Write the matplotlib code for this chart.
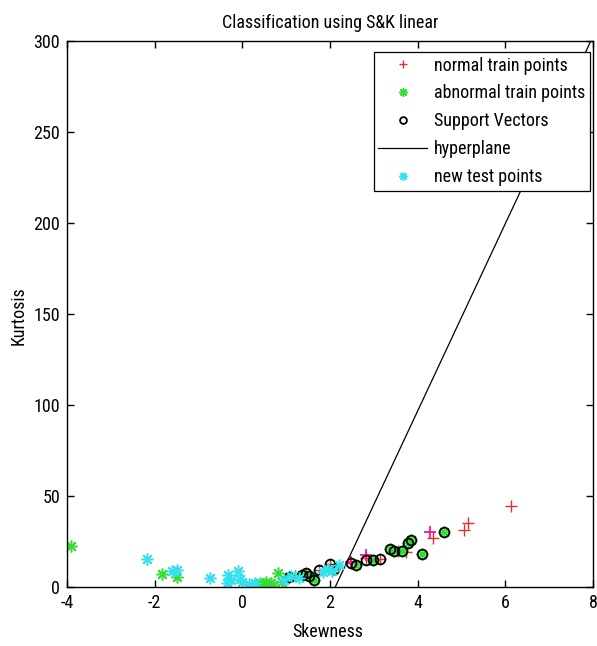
import matplotlib
matplotlib.use("Agg")
import matplotlib.pyplot as plt

# ---- data ----
normal_x = [1.76, 2.49, 3.13, 3.74, 4.34, 5.05, 5.14, 6.14, 2.83, 2.00, 1.45, 3.55]
normal_y = [9.4, 13.0, 15.4, 19.0, 27.0, 31.4, 35.0, 44.6, 16.0, 12.5, 7.5, 20.0]

magenta_x = [4.27, 2.83, 2.48]
magenta_y = [30.0, 17.6, 14.0]

abnormal_x = [-3.90, -1.83, -1.48, 0.30, 0.40, 0.50, 0.55, 0.65, 0.70, 0.82, 0.90,
              1.07, 1.37, 1.53, 1.64, 2.10, 2.60, 2.97, 3.36, 3.45, 3.65, 3.77,
              3.84, 4.11, 4.61, 1.20]
abnormal_y = [22.5, 7.0, 5.5, 1.5, 2.0, 1.5, 3.0, 2.0, 1.0, 7.5, 3.0,
              5.5, 6.6, 6.0, 4.0, 10.0, 12.0, 15.0, 21.0, 20.0, 20.0, 24.0,
              26.0, 18.0, 30.0, 6.0]

sv_x = [1.07, 1.37, 1.45, 1.53, 1.64, 1.76, 2.00, 2.10, 2.49, 2.60, 2.83, 2.97,
        3.13, 3.36, 3.45, 3.65, 3.77, 3.84, 4.11, 4.61]
sv_y = [5.5, 6.6, 7.5, 6.0, 4.0, 9.4, 12.5, 10.0, 13.0, 12.0, 15.0, 15.0,
        15.4, 21.0, 20.0, 20.0, 24.0, 26.0, 18.0, 30.0]

test_x = [-2.17, -1.60, -1.50, -0.73, -0.32, -0.25, -0.10, -0.35, 0.00, 0.15,
          0.30, 0.95, 1.10, 1.30, 1.85, 1.95, 2.05, 2.20, -0.05]
test_y = [15.4, 8.8, 9.5, 5.0, 6.6, 4.0, 8.8, 2.0, 2.5, 1.5,
          2.0, 4.0, 6.0, 5.0, 8.0, 10.0, 9.0, 12.0, 4.5]

hyper_x = [2.12, 7.95]
hyper_y = [0.0, 300.0]

xticks = [-4, -2, 0, 2, 4, 6, 8]
yticks = [0, 50, 100, 150, 200, 250, 300]

plt.rcParams['font.family'] = ['Roboto Condensed', 'Liberation Sans', 'DejaVu Sans']
plt.rcParams['axes.unicode_minus'] = False

fs = 13

fig = plt.figure(figsize=(5.97, 6.46), dpi=100)
ax = fig.add_axes([67/597, 1-587/646, 526/597, 546/646])

red = '#e03030'
green = '#33dd33'
cyan = '#33e0ee'
ast = (8, 2, 0)

ax.plot(normal_x, normal_y, '+', color=red, ms=8, mew=1.0, label='normal train points')
ax.plot(abnormal_x, abnormal_y, marker=ast, ls='none', color=green, ms=8.5, mew=1.1,
        label='abnormal train points')
ax.plot(magenta_x, magenta_y, '+', color='#ff1493', ms=9, mew=1.3, label='_nolegend_')
ax.plot(sv_x, sv_y, 'o', mfc='none', mec='black', ms=7, mew=1.3, label='Support Vectors')
ax.plot(hyper_x, hyper_y, '-', color='black', lw=0.9, label='hyperplane')
ax.plot(test_x, test_y, marker=ast, ls='none', color=cyan, ms=8.5, mew=1.1,
        label='new test points')

ax.set_xlim(-4, 8)
ax.set_ylim(0, 300)
ax.set_xticks(xticks)
ax.set_yticks(yticks)
ax.tick_params(direction='in', top=True, right=True, length=5, labelsize=fs, width=1)
ax.tick_params(axis='x', pad=5)
ax.tick_params(axis='y', pad=5)
for s in ax.spines.values():
    s.set_linewidth(1.0)

ax.set_title('Classification using S&K linear', fontsize=fs, pad=9.5)
ax.set_xlabel('Skewness', fontsize=fs, va='top')
ax.xaxis.set_label_coords((328-67)/526, (587-623)/546)
ax.set_ylabel('Kurtosis', fontsize=fs, va='center', ha='center')
ax.yaxis.set_label_coords((19-67)/526, (587-316)/546)

h, l = ax.get_legend_handles_labels()
leg = ax.legend(h, l, loc='upper right', bbox_to_anchor=((590-67)/526, (587-52)/546),
                frameon=True, fancybox=False, edgecolor='black', fontsize=fs,
                framealpha=1, borderpad=0.25, labelspacing=0.55, handlelength=2.7,
                handletextpad=0.4, borderaxespad=0.0, markerscale=0.7)
leg.get_frame().set_linewidth(0.9)

fig.savefig('out.png', dpi=100)
